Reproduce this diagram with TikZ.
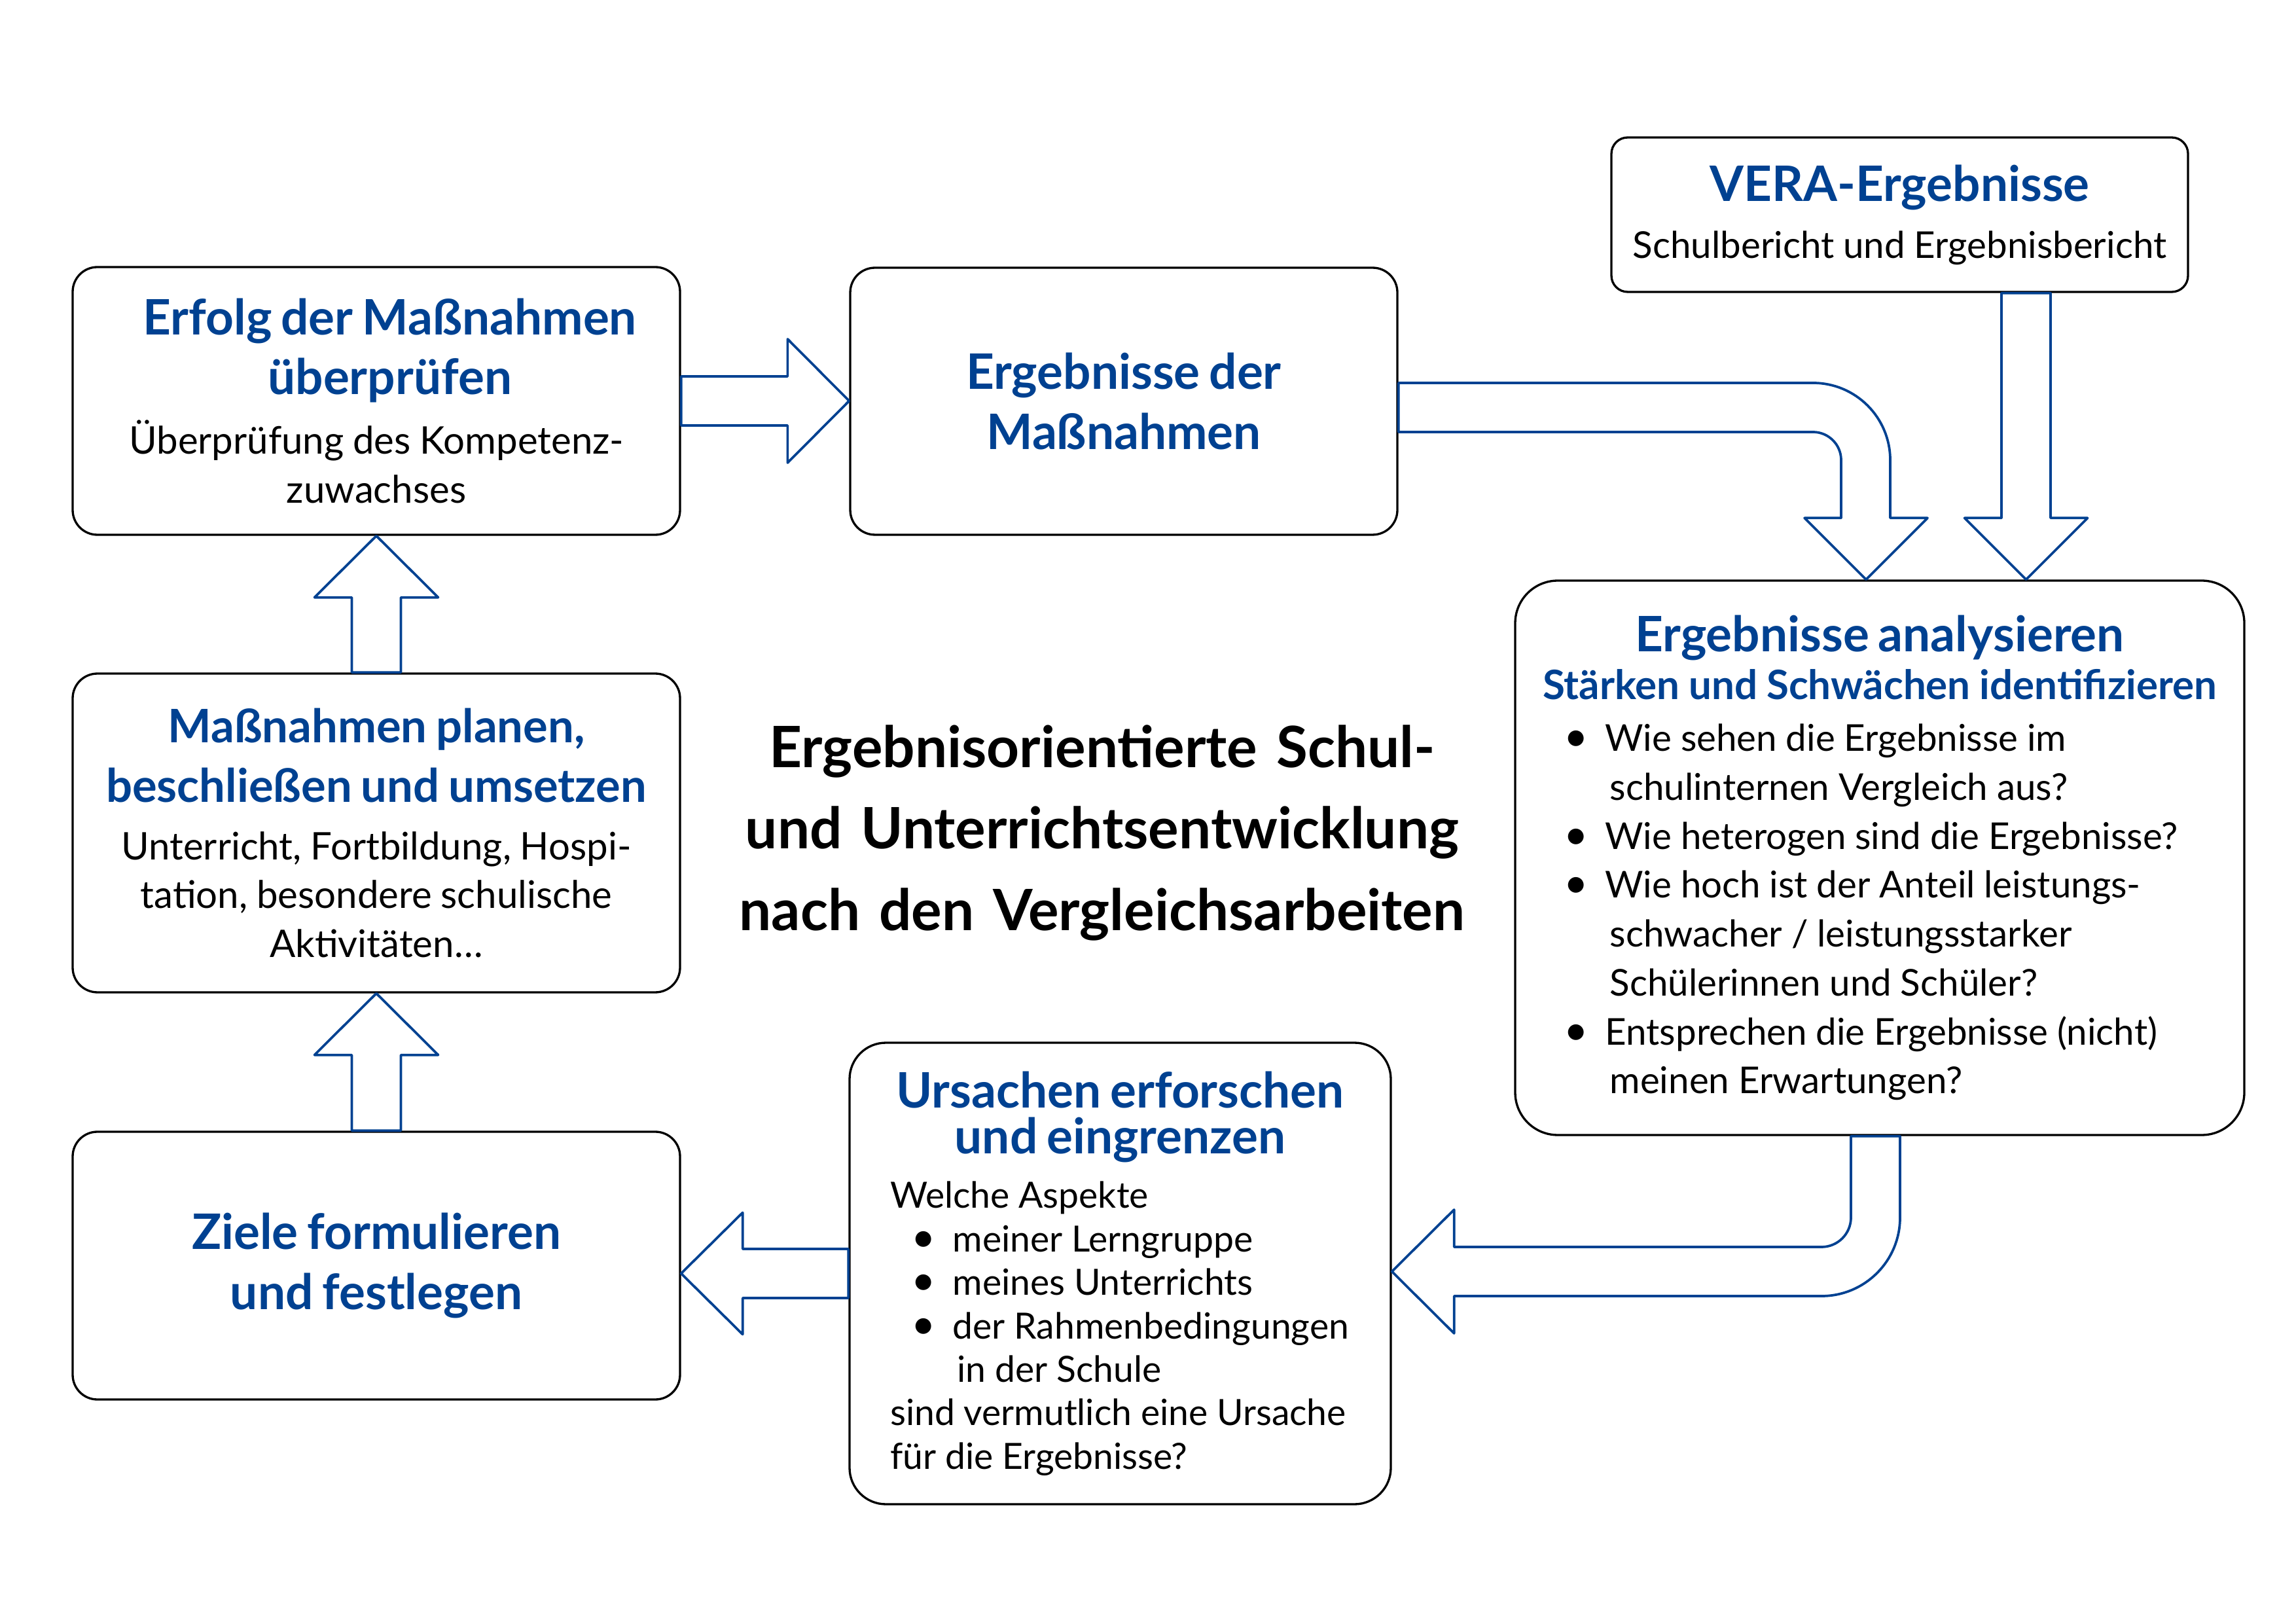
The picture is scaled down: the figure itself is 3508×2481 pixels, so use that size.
\documentclass[tikz,border=0pt]{standalone}
\usepackage{fontspec}
\setmainfont{Lato}
\usetikzlibrary{calc}

\definecolor{verablue}{RGB}{0,65,145}

\newcommand{\titlefont}{\fontsize{18}{22}\selectfont\bfseries\color{verablue}}
\newcommand{\subtitlefont}{\fontsize{14.9}{17.5}\selectfont\bfseries\color{verablue}}
\newcommand{\bodyfont}{\fontsize{13.6}{18}\selectfont\mdseries\color{black}}
\newcommand{\boxhead}[1]{{\titlefont #1\par}}
\newcommand{\boxtext}[1]{{\bodyfont #1\par}}
\newcommand{\bul}[1]{\par\hangindent=24.7pt\hangafter=1\noindent
  \makebox[23pt][l]{\hspace{7.8pt}{\fontsize{15.5}{15.5}\selectfont\textbullet}}#1}

\begin{document}
\begin{tikzpicture}[x=0.084667mm, y=-0.084667mm,
    box/.style={draw, line width=0.8pt, rounded corners=3.2mm, inner sep=0pt, align=center,
      execute at begin node={\parindent=0pt}},
    blockarrow/.style={draw=verablue, line width=0.9pt, line join=round}]
  \useasboundingbox (0,0) rectangle (3508,2481);

  % boxes of the cycle
  \node[box, minimum width=78.57mm, minimum height=34.63mm, text width=72mm] (A) at (575,612.5)
    {\boxhead{\hspace*{10pt}Erfolg der Maßnahmen\\ \hspace*{10pt}überprüfen}\vspace{4pt}
     {\bodyfont\fontsize{14}{18}\selectfont Überprüfung des Kompetenz-\\ zuwachses\par}};
  \node[box, minimum width=70.78mm, minimum height=34.54mm, text width=64mm] (B) at (1717,613)
    {\boxhead{Ergebnisse der\\ Maßnahmen}};
  \node[box, rounded corners=2.1mm, minimum width=74.59mm, minimum height=19.98mm, text width=73mm] (V) at (2902.5,328)
    {\boxhead{VERA-Ergebnisse}\vspace{3pt}
     \boxtext{Schulbericht und Ergebnisbericht}};
  \node[box, rounded corners=5.5mm, minimum width=94.32mm, minimum height=71.71mm, text width=90mm] (C) at (2872,1310.5)
    {\boxhead{Ergebnisse analysieren}
     {\subtitlefont Stärken und Schwächen identifizieren\par}\vspace{1.2pt}
     {\bodyfont\raggedright\leftskip=4pt
      \bul{Wie sehen die Ergebnisse im\newline schulinternen Vergleich aus?}
      \bul{Wie heterogen sind die Ergebnisse?}
      \bul{Wie hoch ist der Anteil leistungs-\newline schwacher / leistungsstarker\newline Schülerinnen und Schüler?}
      \bul{Entsprechen die Ergebnisse (nicht)\newline meinen Erwartungen?}\par}};
  \node[box, rounded corners=4.7mm, minimum width=70.02mm, minimum height=59.69mm, text width=64mm] (D) at (1711.5,1945.5)
    {{\titlefont\baselineskip=17pt Ursachen erforschen\\ und eingrenzen\par}\vspace{4pt}
     {\bodyfont\fontsize{13.3}{16}\selectfont\raggedright\leftskip=6.4pt
      Welche Aspekte
      \bul{meiner Lerngruppe}
      \bul{meines Unterrichts}
      \bul{der Rahmenbedingungen\newline in der Schule}
      \par\noindent sind vermutlich eine Ursache\\ für die Ergebnisse?\par}};
  \node[box, minimum width=78.57mm, minimum height=34.63mm, text width=72mm] (E) at (575,1933.5)
    {\boxhead{Ziele formulieren\\ und festlegen}};
  \node[box, minimum width=78.57mm, minimum height=41.23mm, text width=76mm] (F) at (575,1272.5)
    {{\titlefont\fontsize{17}{22}\selectfont Maßnahmen planen,\\ beschließen und umsetzen\par}\vspace{3pt}
     {\bodyfont\fontsize{14}{18}\selectfont Unterricht, Fortbildung, Hospi-\\ tation, besondere schulische\\ Aktivitäten…\par}};

  % title in the middle
  \node[text width=120mm, align=center, font=\fontsize{21}{30}\selectfont\bfseries] (T) at (1684,1272)
    {Ergebnisorientierte Schul-\\ und Unterrichtsentwicklung\\ nach den Vergleichsarbeiten};

  % block arrows
  \draw[blockarrow] ($(A.east)+(0,-37.5)$) -- ($(B.west |- A.east)+(-94,-37.5)$) -- ($(B.west |- A.east)+(-94,-94.5)$)
    -- (B.west |- A.east) -- ($(B.west |- A.east)+(-94,94.5)$) -- ($(B.west |- A.east)+(-94,37.5)$)
    -- ($(A.east)+(0,37.5)$) -- cycle;

  \coordinate (bcturn) at (2770,703);
  \draw[blockarrow] ($(B.east)+(0,-28)$) -- ($(bcturn)+(0,-118)$) arc[start angle=-90, end angle=0, radius=118]
    -- ($(bcturn |- C.north)+(118,-94)$) -- ($(bcturn |- C.north)+(175,-94)$) -- ($(bcturn |- C.north)+(81,0)$)
    -- ($(bcturn |- C.north)+(-13,-94)$) -- ($(bcturn |- C.north)+(43,-94)$)
    -- ($(bcturn)+(43,0)$) arc[start angle=0, end angle=-90, radius=43] -- ($(B.east)+(0,47)$) -- cycle;

  \coordinate (vcshaft) at ($(V.south)+(193,0)$);
  \draw[blockarrow] ($(vcshaft)+(-37.5,0)$) -- ($(vcshaft |- C.north)+(-37.5,-94)$) -- ($(vcshaft |- C.north)+(-94,-94)$)
    -- (vcshaft |- C.north) -- ($(vcshaft |- C.north)+(94,-94)$) -- ($(vcshaft |- C.north)+(37.5,-94)$)
    -- ($(vcshaft)+(37.5,0)$) -- cycle;

  \coordinate (cdturn) at (2783,1860);
  \draw[blockarrow] ($(C.south)+(-44,0)$) -- ($(cdturn)+(45,0)$) arc[start angle=0, end angle=90, radius=45]
    -- ($(D.east |- cdturn)+(95,45)$) -- ($(D.east |- cdturn)+(95,-12)$) -- ($(D.east |- cdturn)+(0,82.5)$)
    -- ($(D.east |- cdturn)+(95,177)$) -- ($(D.east |- cdturn)+(95,120)$)
    -- ($(cdturn)+(0,120)$) arc[start angle=90, end angle=0, radius=120] -- ($(C.south)+(31,0)$) -- cycle;

  \draw[blockarrow] ($(D.west)+(0,-37.5)$) -- ($(E.east |- D.west)+(94,-37.5)$) -- ($(E.east |- D.west)+(94,-93)$)
    -- (E.east |- D.west) -- ($(E.east |- D.west)+(94,93)$) -- ($(E.east |- D.west)+(94,37.5)$)
    -- ($(D.west)+(0,37.5)$) -- cycle;

  \draw[blockarrow] ($(E.north)+(-37.5,0)$) -- ($(F.south)+(-37.5,94)$) -- ($(F.south)+(-94.5,94)$)
    -- (F.south) -- ($(F.south)+(94.5,94)$) -- ($(F.south)+(37.5,94)$)
    -- ($(E.north)+(37.5,0)$) -- cycle;

  \draw[blockarrow] ($(F.north)+(-37.5,0)$) -- ($(A.south)+(-37.5,94)$) -- ($(A.south)+(-94.5,94)$)
    -- (A.south) -- ($(A.south)+(94.5,94)$) -- ($(A.south)+(37.5,94)$)
    -- ($(F.north)+(37.5,0)$) -- cycle;
\end{tikzpicture}
\end{document}
